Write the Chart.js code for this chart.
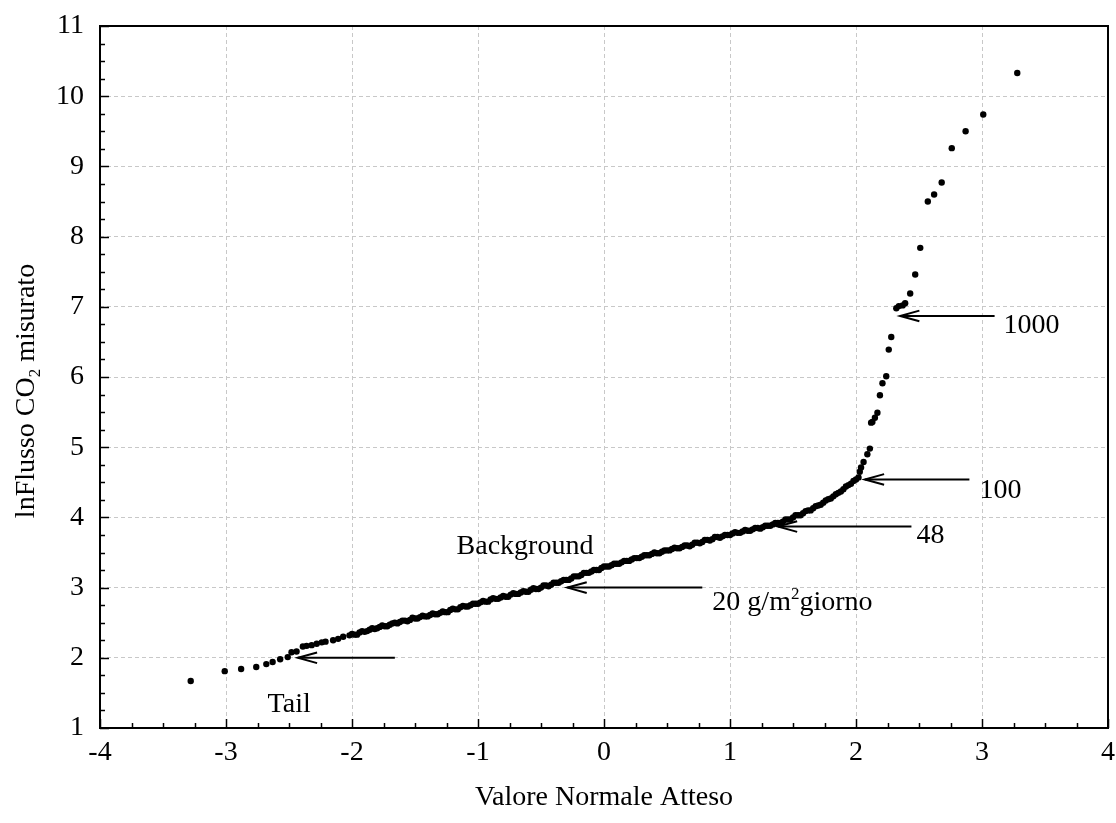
<!DOCTYPE html>
<html>
<head>
<meta charset="utf-8">
<script src="https://cdn.jsdelivr.net/npm/chart.js@4.4.1/dist/chart.umd.min.js"></script>
<style>
	html, body { margin: 0; padding: 0; background: #fff; }
	#wrap { width: 1116px; height: 823px; }
</style>
</head>
<body>
<div id="wrap"><canvas id="qq-chart" width="1116" height="823"></canvas></div>
<script>
// lower tail
var tailX = [-3.28, -3.01, -2.88, -2.76, -2.68, -2.63, -2.57, -2.51, -2.48, -2.44,
	-2.39, -2.36, -2.32, -2.28, -2.24, -2.21, -2.15, -2.11, -2.07];
var tailY = [1.67, 1.81, 1.84, 1.87, 1.91, 1.94, 1.98, 2.01, 2.08, 2.09,
	2.16, 2.17, 2.18, 2.20, 2.22, 2.23, 2.25, 2.27, 2.30];

// background population (dense band, read in two passes)
var backgroundX = [
	-2.02, -1.98, -1.94, -1.90, -1.86, -1.82, -1.78, -1.74, -1.70, -1.66,
	-1.62, -1.58, -1.54, -1.50, -1.46, -1.42, -1.38, -1.34, -1.30, -1.26,
	-1.22, -1.18, -1.14, -1.10, -1.06, -1.02, -0.98, -0.94, -0.90, -0.86,
	-0.82, -0.78, -0.74, -0.70, -0.66, -0.62, -0.58, -0.54, -0.50, -0.46,
	-0.42, -0.38, -0.34, -0.30, -0.26, -0.22, -0.18, -0.14, -0.10, -0.06,
	-0.02, 0.02, 0.06, 0.10, 0.14, 0.18, 0.22, 0.26, 0.30, 0.34,
	0.38, 0.42, 0.46, 0.50, 0.54, 0.58, 0.62, 0.66, 0.70, 0.74,
	0.78, 0.82, 0.86, 0.90, 0.94, 0.98, 1.02, 1.06, 1.10, 1.14,
	1.18, 1.22, 1.26, 1.30, 1.34, 1.38, 1.42, 1.46, 1.50, 1.54,
	1.58, 1.62, 1.66, 1.70, 1.74, 1.78, 1.82, 1.86, 1.90, 1.94,
	1.98, 2.00];
var backgroundY = [
	2.32, 2.33, 2.36, 2.37, 2.40, 2.41, 2.44, 2.45, 2.47, 2.50,
	2.51, 2.53, 2.54, 2.56, 2.58, 2.59, 2.61, 2.62, 2.64, 2.65,
	2.68, 2.69, 2.72, 2.73, 2.75, 2.77, 2.79, 2.80, 2.83, 2.84,
	2.86, 2.87, 2.90, 2.91, 2.93, 2.94, 2.97, 2.98, 3.00, 3.03,
	3.04, 3.07, 3.09, 3.11, 3.13, 3.16, 3.18, 3.21, 3.23, 3.25,
	3.28, 3.30, 3.32, 3.34, 3.36, 3.38, 3.40, 3.42, 3.44, 3.46,
	3.48, 3.49, 3.51, 3.53, 3.55, 3.56, 3.58, 3.60, 3.61, 3.64,
	3.65, 3.68, 3.69, 3.72, 3.73, 3.75, 3.77, 3.78, 3.80, 3.81,
	3.83, 3.85, 3.86, 3.88, 3.90, 3.92, 3.94, 3.97, 4.00, 4.03,
	4.06, 4.10, 4.13, 4.17, 4.21, 4.26, 4.30, 4.35, 4.40, 4.46,
	4.52, 4.54];

var backgroundX2 = [
	-2.00, -1.96, -1.92, -1.88, -1.84, -1.80, -1.76, -1.72, -1.68, -1.64,
	-1.60, -1.56, -1.52, -1.48, -1.44, -1.40, -1.36, -1.32, -1.28, -1.24,
	-1.20, -1.16, -1.12, -1.08, -1.04, -1.00, -0.96, -0.92, -0.88, -0.84,
	-0.80, -0.76, -0.72, -0.68, -0.64, -0.60, -0.56, -0.52, -0.48, -0.44,
	-0.40, -0.36, -0.32, -0.28, -0.24, -0.20, -0.16, -0.12, -0.08, -0.04,
	0.00, 0.04, 0.08, 0.12, 0.16, 0.20, 0.24, 0.28, 0.32, 0.36,
	0.40, 0.44, 0.48, 0.52, 0.56, 0.60, 0.64, 0.68, 0.72, 0.76,
	0.80, 0.84, 0.88, 0.92, 0.96, 1.00, 1.04, 1.08, 1.12, 1.16,
	1.20, 1.24, 1.28, 1.32, 1.36, 1.40, 1.44, 1.48, 1.52, 1.56,
	1.60, 1.64, 1.68, 1.72, 1.76, 1.80, 1.84, 1.88, 1.92, 1.96];
var backgroundY2 = [
	2.34, 2.33, 2.38, 2.38, 2.42, 2.42, 2.46, 2.45, 2.49, 2.49,
	2.53, 2.52, 2.57, 2.56, 2.60, 2.59, 2.63, 2.62, 2.66, 2.65,
	2.70, 2.69, 2.74, 2.73, 2.77, 2.77, 2.81, 2.80, 2.85, 2.84,
	2.88, 2.87, 2.92, 2.91, 2.95, 2.94, 2.99, 2.98, 3.03, 3.02,
	3.07, 3.07, 3.11, 3.11, 3.16, 3.16, 3.21, 3.21, 3.25, 3.25,
	3.30, 3.30, 3.34, 3.34, 3.38, 3.38, 3.42, 3.42, 3.46, 3.46,
	3.50, 3.49, 3.53, 3.53, 3.57, 3.56, 3.60, 3.59, 3.64, 3.63,
	3.68, 3.67, 3.72, 3.71, 3.75, 3.75, 3.79, 3.78, 3.82, 3.81,
	3.85, 3.84, 3.88, 3.88, 3.92, 3.92, 3.97, 3.97, 4.03, 4.03,
	4.09, 4.10, 4.16, 4.18, 4.24, 4.27, 4.33, 4.37, 4.44, 4.48];

// anomalous (upper) population
var anomalyX = [2.02, 2.03, 2.04, 2.06, 2.09, 2.11, 2.12, 2.13, 2.15, 2.17,
	2.19, 2.21, 2.24, 2.26, 2.28, 2.32, 2.34, 2.37, 2.39, 2.43,
	2.47, 2.51, 2.57, 2.62, 2.68, 2.76, 2.87, 3.01, 3.28];
var anomalyY = [4.57, 4.65, 4.71, 4.79, 4.90, 4.98, 5.35, 5.36, 5.42, 5.49,
	5.74, 5.91, 6.01, 6.39, 6.57, 6.98, 7.01, 7.02, 7.05, 7.19,
	7.46, 7.84, 8.50, 8.60, 8.77, 9.26, 9.50, 9.74, 10.33];

var xAxisRange = [-4, 4];
var yAxisRange = [1, 11];

// annotation arrows (data coords), tip at x2
var arrowNotes = [
	{x1: -1.66, x2: -2.43, y: 2.0},
	{x1: 0.78, x2: -0.29, y: 3.0},
	{x1: 2.44, x2: 1.38, y: 3.87},
	{x1: 2.90, x2: 2.07, y: 4.54},
	{x1: 3.10, x2: 2.35, y: 6.87}
];

// annotation texts, x = left edge, y = baseline
var textNotes = [
	{x: -2.67, y: 1.23, parts: [{t: "Tail"}]},
	{x: -1.17, y: 3.48, parts: [{t: "Background"}]},
	{x: 0.86, y: 2.68, parts: [{t: "20 g/m"}, {t: "2", sup: true}, {t: "giorno"}]},
	{x: 2.48, y: 3.63, parts: [{t: "48"}]},
	{x: 2.98, y: 4.27, parts: [{t: "100"}]},
	{x: 3.17, y: 6.62, parts: [{t: "1000"}]}
];

var FONT = "'Liberation Serif', 'Times New Roman', serif";

function toPoints(xs, ys) {
	var pts = [];
	for(var i = 0; i < xs.length; i++)
		pts.push({x: xs[i], y: ys[i]});
	return pts;
}

function drawRich(ctx, parts, x, y, size) {
	for(var i = 0; i < parts.length; i++) {
		var p = parts[i];
		var s = (p.sup || p.sub) ? Math.round(size * 0.62) : size;
		var dy = p.sup ? -size * 0.38 : (p.sub ? size * 0.22 : 0);
		ctx.font = s + "px " + FONT;
		ctx.fillText(p.t, x, y + dy);
		x += ctx.measureText(p.t).width;
	}
}

function richWidth(ctx, parts, size) {
	var w = 0;
	for(var i = 0; i < parts.length; i++) {
		var s = (parts[i].sup || parts[i].sub) ? Math.round(size * 0.62) : size;
		ctx.font = s + "px " + FONT;
		w += ctx.measureText(parts[i].t).width;
	}
	return w;
}

function drawArrow(ctx, x1, y1, x2, y2) {
	var ang = Math.atan2(y2 - y1, x2 - x1);
	ctx.beginPath();
	ctx.moveTo(x1, y1);
	ctx.lineTo(x2, y2);
	ctx.stroke();
	ctx.beginPath();
	ctx.moveTo(x2 - 20 * Math.cos(ang - 0.27), y2 - 20 * Math.sin(ang - 0.27));
	ctx.lineTo(x2, y2);
	ctx.lineTo(x2 - 20 * Math.cos(ang + 0.27), y2 - 20 * Math.sin(ang + 0.27));
	ctx.stroke();
}

var framePlugin = {
	id: "frame",
	afterDraw: function(chart) {
		var ctx = chart.ctx;
		var area = chart.chartArea;
		var xs = chart.scales.x;
		var ys = chart.scales.y;
		var v;

		ctx.save();
		ctx.strokeStyle = "#000";
		ctx.lineWidth = 1.5;

		// inward ticks, bottom and left
		for(v = xAxisRange[0]; v <= xAxisRange[1] + 1e-9; v += 0.25) {
			var px = Math.round(xs.getPixelForValue(v)) + 0.5;
			var len = Math.abs(v - Math.round(v)) < 1e-6 ? 9 : 5;
			ctx.beginPath();
			ctx.moveTo(px, area.bottom);
			ctx.lineTo(px, area.bottom - len);
			ctx.stroke();
		}
		for(v = yAxisRange[0]; v <= yAxisRange[1] + 1e-9; v += 0.25) {
			var py = Math.round(ys.getPixelForValue(v)) + 0.5;
			var len2 = Math.abs(v - Math.round(v)) < 1e-6 ? 9 : 5;
			ctx.beginPath();
			ctx.moveTo(area.left, py);
			ctx.lineTo(area.left + len2, py);
			ctx.stroke();
		}

		// frame
		ctx.lineWidth = 2;
		ctx.strokeRect(area.left, area.top, area.right - area.left, area.bottom - area.top);

		// arrows
		ctx.lineWidth = 2;
		for(var i = 0; i < arrowNotes.length; i++) {
			var a = arrowNotes[i];
			drawArrow(ctx, xs.getPixelForValue(a.x1), ys.getPixelForValue(a.y),
				xs.getPixelForValue(a.x2), ys.getPixelForValue(a.y));
		}

		// texts
		ctx.fillStyle = "#000";
		ctx.textBaseline = "alphabetic";
		ctx.textAlign = "left";
		for(i = 0; i < textNotes.length; i++) {
			var t = textNotes[i];
			drawRich(ctx, t.parts, xs.getPixelForValue(t.x), ys.getPixelForValue(t.y), 28);
		}

		// axis titles
		var xTitle = [{t: "Valore Normale Atteso"}];
		var cx = (area.left + area.right) / 2;
		drawRich(ctx, xTitle, cx - richWidth(ctx, xTitle, 28) / 2, 805, 28);

		var yTitle = [{t: "lnFlusso CO"}, {t: "2", sub: true}, {t: " misurato"}];
		ctx.translate(34, 391);
		ctx.rotate(-Math.PI / 2);
		drawRich(ctx, yTitle, -richWidth(ctx, yTitle, 28) / 2, 0, 28);
		ctx.restore();
	}
};

window.onload = function() {
	var pointStyle = {
		showLine: false,
		pointRadius: 3.2,
		pointBackgroundColor: "#000",
		pointBorderWidth: 0,
		pointHoverRadius: 3.2
	};

	window.qqChart = new Chart(document.getElementById("qq-chart"), {
		type: "scatter",
		data: {
			datasets: [
				Object.assign({label: "Tail", data: toPoints(tailX, tailY)}, pointStyle),
				Object.assign({label: "Background", data: toPoints(backgroundX, backgroundY)}, pointStyle),
				Object.assign({label: "Background 2", data: toPoints(backgroundX2, backgroundY2)}, pointStyle),
				Object.assign({label: "Anomaly", data: toPoints(anomalyX, anomalyY)}, pointStyle)
			]
		},
		options: {
			responsive: false,
			devicePixelRatio: 1,
			animation: false,
			layout: {
				padding: {top: 26, right: 8, left: 0, bottom: 0}
			},
			plugins: {
				legend: {display: false},
				tooltip: {enabled: false}
			},
			scales: {
				x: {
					type: "linear",
					min: xAxisRange[0],
					max: xAxisRange[1],
					afterFit: function(scale) {
						scale.height = 95;
						scale.paddingLeft = 0;
						scale.paddingRight = 0;
					},
					ticks: {
						stepSize: 1,
						color: "#000",
						padding: 8,
						font: {family: FONT, size: 28}
					},
					grid: {
						color: "#c8c8c8",
						lineWidth: 1,
						drawTicks: false
					},
					border: {display: false, dash: [4, 3]}
				},
				y: {
					type: "linear",
					min: yAxisRange[0],
					max: yAxisRange[1],
					afterFit: function(scale) {
						scale.width = 100;
						scale.paddingTop = 0;
						scale.paddingBottom = 0;
					},
					ticks: {
						stepSize: 1,
						color: "#000",
						padding: 16,
						font: {family: FONT, size: 28}
					},
					grid: {
						color: "#c8c8c8",
						lineWidth: 1,
						drawTicks: false
					},
					border: {display: false, dash: [4, 3]}
				}
			}
		},
		plugins: [framePlugin]
	});
};
</script>
</body>
</html>
